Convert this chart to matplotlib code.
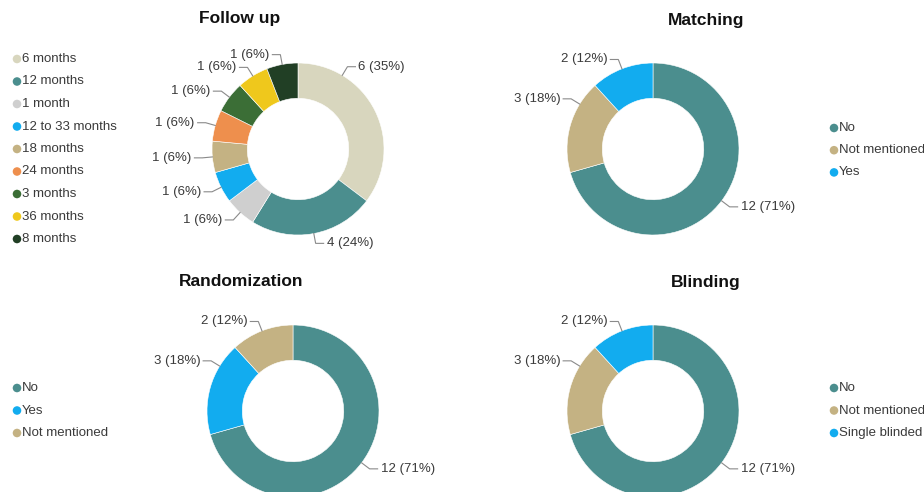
import numpy as np
import matplotlib
matplotlib.use("Agg")
import matplotlib.pyplot as plt

plt.rcParams["font.family"] = ["Liberation Sans", "DejaVu Sans"]

# ---- data ----
followup_labels = ["6 months", "12 months", "1 month", "12 to 33 months", "18 months",
                   "24 months", "3 months", "36 months", "8 months"]
followup_values = [6, 4, 1, 1, 1, 1, 1, 1, 1]
followup_colors = ["#d8d6be", "#4b8e8e", "#cfcfcf", "#12acef", "#c4b283",
                   "#ee8f4d", "#3b6e36", "#efc81c", "#213f25"]

matching_labels = ["No", "Not mentioned", "Yes"]
matching_values = [12, 3, 2]
matching_colors = ["#4b8e8e", "#c4b283", "#12acef"]

random_labels = ["No", "Yes", "Not mentioned"]
random_values = [12, 3, 2]
random_colors = ["#4b8e8e", "#12acef", "#c4b283"]

blinding_labels = ["No", "Not mentioned", "Single blinded"]
blinding_values = [12, 3, 2]
blinding_colors = ["#4b8e8e", "#c4b283", "#12acef"]

# ---- layout (pixels, origin top-left) ----
W, H = 924, 492
R = 86  # donut outer radius in px
TEXT = "#3a3a3a"
LINE = "#8a8a8a"

fig = plt.figure(figsize=(W / 100, H / 100), dpi=100)
fig.patch.set_facecolor("white")

overlay = fig.add_axes([0, 0, 1, 1])
overlay.set_xlim(0, W)
overlay.set_ylim(H, 0)
overlay.axis("off")

panels = [
    dict(title="Follow up", tx=240, ty=19, cx=298, cy=149,
         labels=followup_labels, values=followup_values, colors=followup_colors,
         lx=17, ly=59, lstep=22.5, label_angles={0: 59.0}),
    dict(title="Matching", tx=706, ty=20, cx=653, cy=149,
         labels=matching_labels, values=matching_values, colors=matching_colors,
         lx=834, ly=128, lstep=22.2, label_angles={1: 148.5}),
    dict(title="Randomization", tx=241, ty=282, cx=293, cy=411,
         labels=random_labels, values=random_values, colors=random_colors,
         lx=17, ly=388, lstep=22.5, label_angles={1: 148.5}),
    dict(title="Blinding", tx=706, ty=282, cx=653, cy=411,
         labels=blinding_labels, values=blinding_values, colors=blinding_colors,
         lx=834, ly=388, lstep=22.5, label_angles={1: 148.5}),
]

for p in panels:
    # title
    overlay.text(p["tx"], p["ty"], p["title"], ha="center", va="center",
                 fontsize=12.5, fontweight="bold", color="#111111")

    # legend
    for i, (lab, col) in enumerate(zip(p["labels"], p["colors"])):
        y = p["ly"] + i * p["lstep"]
        overlay.scatter([p["lx"]], [y], s=38, color=col, edgecolors="none")
        overlay.text(p["lx"] + 5, y, lab, ha="left", va="center",
                     fontsize=9.5, color=TEXT)

    # donut
    ax = fig.add_axes([(p["cx"] - R) / W, (H - p["cy"] - R) / H, 2 * R / W, 2 * R / H])
    vals = np.array(p["values"], dtype=float)
    ax.pie(vals, colors=p["colors"], startangle=90, counterclock=False, radius=1.0,
           wedgeprops=dict(width=0.41, edgecolor="white", linewidth=0.4))
    ax.set_xlim(-1, 1)
    ax.set_ylim(-1, 1)
    ax.set_aspect("auto")
    ax.axis("off")

    # data labels with elbow leader lines
    total = vals.sum()
    cum = np.concatenate([[0], np.cumsum(vals)])
    unit = 1.0 / R
    for i, v in enumerate(vals):
        mid_cw = (cum[i] + cum[i + 1]) / 2 / total * 360.0
        ang = p["label_angles"].get(i, 90.0 - mid_cw)
        a = np.deg2rad(ang)
        d = np.array([np.cos(a), np.sin(a)])
        p0 = d * 1.0
        p1 = d * (1.0 + 10 * unit)
        side = 1 if d[0] >= 0 else -1
        p2 = p1 + np.array([side * 8 * unit, 0])
        ax.plot([p0[0], p1[0], p2[0]], [p0[1], p1[1], p2[1]], color=LINE,
                lw=0.8, clip_on=False, solid_joinstyle="miter")
        pct = int(round(v / total * 100))
        ax.text(p2[0] + side * 3 * unit, p2[1], f"{int(v)} ({pct}%)",
                ha="left" if side > 0 else "right", va="center",
                fontsize=9.5, color=TEXT, clip_on=False)

fig.savefig("out.png", dpi=100, facecolor="white")
